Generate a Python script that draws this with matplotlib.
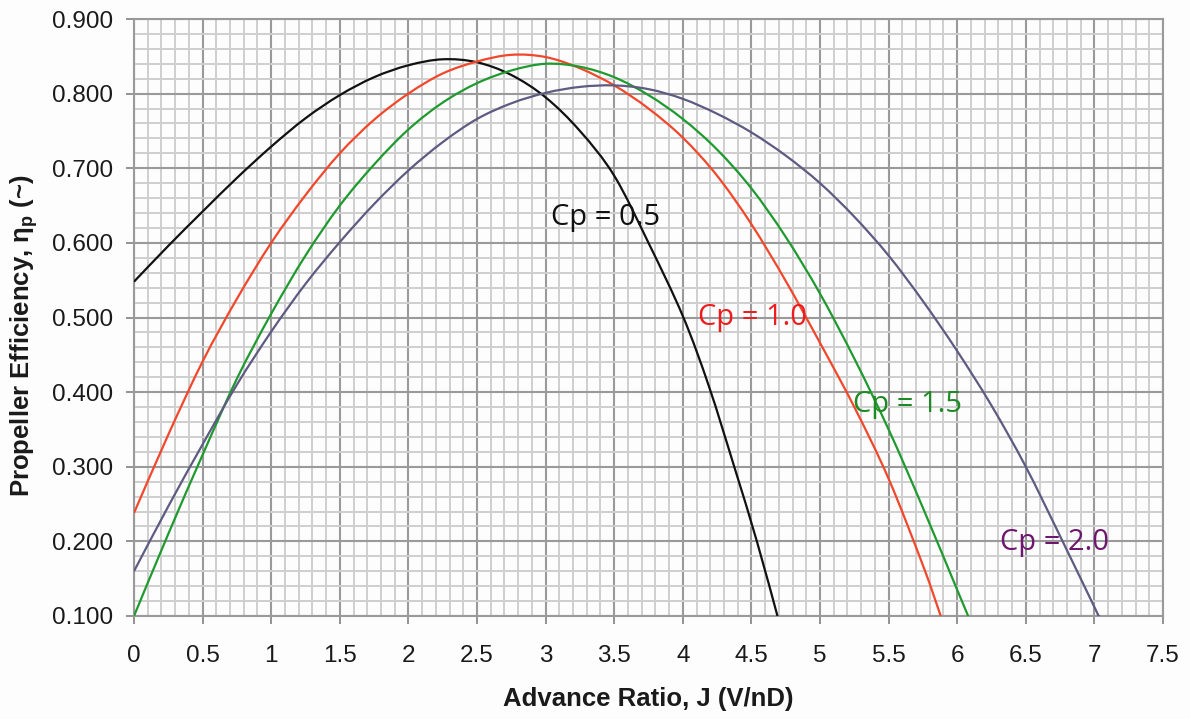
import matplotlib
matplotlib.use("Agg")
import matplotlib.pyplot as plt
from matplotlib.ticker import MultipleLocator, FormatStrFormatter
from matplotlib.path import Path
from matplotlib.patches import PathPatch

# ---- data ----
J_05 = [0, 0.25, 0.5, 0.75, 1.0, 1.25, 1.5, 1.75, 2.0, 2.25, 2.5, 2.75, 3.0, 3.25, 3.5, 3.75, 4.0, 4.19, 4.375, 4.54, 4.69]
E_05 = [0.548, 0.596, 0.642, 0.687, 0.729, 0.767, 0.798, 0.822, 0.838, 0.846, 0.842, 0.825, 0.795, 0.750, 0.690, 0.600, 0.502, 0.408, 0.30, 0.20, 0.10]

J_10 = [0, 0.25, 0.5, 0.75, 1.0, 1.25, 1.5, 1.75, 2.0, 2.25, 2.5, 2.75, 3.0, 3.25, 3.5, 3.75, 4.0, 4.25, 4.5, 4.75, 5.0, 5.25, 5.5, 5.75, 5.88]
E_10 = [0.238, 0.343, 0.441, 0.525, 0.600, 0.664, 0.720, 0.765, 0.800, 0.827, 0.843, 0.852, 0.849, 0.834, 0.811, 0.780, 0.741, 0.690, 0.625, 0.549, 0.466, 0.380, 0.284, 0.168, 0.10]

J_15 = [0, 0.25, 0.5, 0.75, 1.0, 1.25, 1.5, 1.75, 2.0, 2.25, 2.5, 2.75, 3.0, 3.25, 3.5, 3.75, 4.0, 4.25, 4.5, 4.75, 5.0, 5.25, 5.5, 5.75, 6.0, 6.08]
E_15 = [0.10, 0.21, 0.316, 0.418, 0.505, 0.583, 0.650, 0.705, 0.752, 0.788, 0.814, 0.831, 0.840, 0.836, 0.822, 0.798, 0.766, 0.725, 0.673, 0.608, 0.532, 0.445, 0.350, 0.245, 0.135, 0.10]

J_20 = [0, 0.25, 0.5, 0.75, 1.0, 1.25, 1.5, 1.75, 2.0, 2.25, 2.5, 2.75, 3.0, 3.25, 3.5, 3.75, 4.0, 4.25, 4.5, 4.75, 5.0, 5.25, 5.5, 5.75, 6.0, 6.25, 6.5, 6.75, 7.0, 7.03]
E_20 = [0.160, 0.247, 0.330, 0.410, 0.481, 0.545, 0.601, 0.652, 0.697, 0.735, 0.766, 0.787, 0.801, 0.809, 0.811, 0.806, 0.793, 0.773, 0.748, 0.717, 0.680, 0.635, 0.583, 0.522, 0.455, 0.382, 0.300, 0.207, 0.112, 0.10]

labels = ["Cp = 0.5", "Cp = 1.0", "Cp = 1.5", "Cp = 2.0"]
label_pos = [(3.04, 0.634), (4.11, 0.500), (5.24, 0.383), (6.31, 0.198)]

line_colors = ["#111111", "#f2472a", "#1e9a2e", "#5e5b82"]
text_colors = ["#111111", "#ee1c1c", "#1e8a24", "#6e176e"]


def smooth_path(xs, ys):
    """Excel-style smoothed line: cubic Bezier segments through the read points."""
    n = len(xs)
    pts = list(zip(xs, ys))
    verts = [pts[0]]
    codes = [Path.MOVETO]
    for i in range(n - 1):
        p0 = pts[i - 1] if i > 0 else pts[i]
        p1 = pts[i]
        p2 = pts[i + 1]
        p3 = pts[i + 2] if i + 2 < n else pts[i + 1]
        c1 = (p1[0] + (p2[0] - p0[0]) / 6.0, p1[1] + (p2[1] - p0[1]) / 6.0)
        c2 = (p2[0] - (p3[0] - p1[0]) / 6.0, p2[1] - (p3[1] - p1[1]) / 6.0)
        verts += [c1, c2, p2]
        codes += [Path.CURVE4] * 3
    return Path(verts, codes)


fig = plt.figure(figsize=(11.9, 7.19), dpi=100, facecolor="#fdfdfd")
ax = fig.add_axes([134/1190, (719-616)/719, 1029/1190, 597/719])
ax.set_facecolor("#fdfdfd")

ax.set_xlim(0, 7.5)
ax.set_ylim(0.1, 0.9)
ax.xaxis.set_major_locator(MultipleLocator(0.5))
ax.xaxis.set_minor_locator(MultipleLocator(0.1))
ax.yaxis.set_major_locator(MultipleLocator(0.1))
ax.yaxis.set_minor_locator(MultipleLocator(0.02))
ax.yaxis.set_major_formatter(FormatStrFormatter("%.3f"))
ax.xaxis.set_major_formatter(plt.FuncFormatter(lambda v, pos: "%g" % round(v, 2)))

ax.grid(which="minor", color="#cfcfcf", linewidth=1.4, zorder=0)
ax.grid(which="major", color="#9a9a9a", linewidth=1.5, zorder=0)
ax.set_axisbelow(True)

for s in ax.spines.values():
    s.set_color("#9a9a9a")
    s.set_linewidth(1.5)

ax.tick_params(which="major", direction="out", length=6, width=1.3, color="#8a8a8a",
               labelsize=17.5, labelcolor="#1a1a1a")
ax.tick_params(axis="x", which="major", pad=15)
ax.tick_params(axis="y", which="major", pad=9)
ax.tick_params(which="minor", length=0)
for lab in ax.get_xticklabels() + ax.get_yticklabels():
    lab.set_fontfamily("Liberation Sans")

series = [(J_05, E_05), (J_10, E_10), (J_15, E_15), (J_20, E_20)]
for (jj, ee), c in zip(series, line_colors):
    ax.plot(jj, ee, color=c, linewidth=0, alpha=0)
    patch = PathPatch(smooth_path(jj, ee), facecolor="none", edgecolor=c,
                      linewidth=1.6, zorder=3, transform=ax.transData)
    ax.add_patch(patch)

for t, (x, y), c in zip(labels, label_pos, text_colors):
    ax.text(x, y, t, color=c, fontsize=21, family=["Open Sans", "DejaVu Sans"],
            ha="left", va="center", zorder=4)

ax.set_xlabel("Advance Ratio, J (V/nD)", fontsize=18.5, fontweight="bold",
              family="Liberation Sans", color="#1a1a1a", labelpad=14)
ax.set_ylabel(r"Propeller Efficiency, $\mathregular{\eta_p}$ (~)", fontsize=18.5,
              fontweight="bold", family="Liberation Sans", color="#1a1a1a")
ax.yaxis.set_label_coords(-0.091, 0.469)

fig.savefig("out.png", dpi=100, facecolor=fig.get_facecolor())
